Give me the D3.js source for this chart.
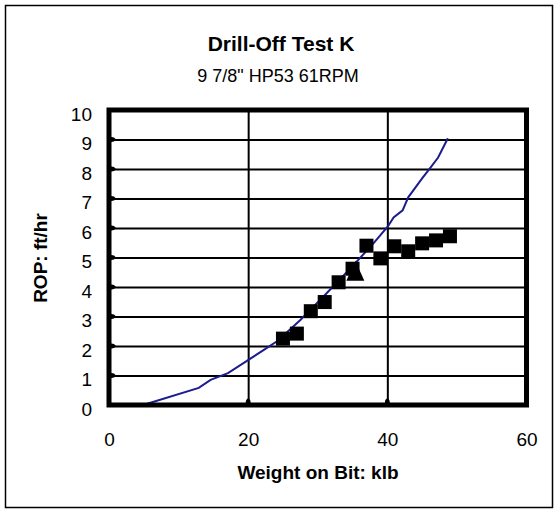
<!DOCTYPE html>
<html><head><meta charset="utf-8">
<script src="https://cdn.jsdelivr.net/npm/d3@7"></script>
<style>
body{margin:0;background:#fff;}
svg{display:block;font-family:"Liberation Sans",Arial,sans-serif;}
</style></head>
<body><svg id="c" width="558" height="512"></svg>
<script>
const title = "Drill-Off Test K";
const subtitle = "9 7/8\" HP53 61RPM";
const xTitle = "Weight on Bit: klb";
const yTitle = "ROP: ft/hr";
const xTicks = [0, 20, 40, 60];
const yTicks = [0,1,2,3,4,5,6,7,8,9,10];

// measured points (squares)
const wob = [25, 27, 29, 31, 33, 35, 37, 39, 41, 43, 45, 47, 49];
const rop = [2.25, 2.42, 3.18, 3.49, 4.16, 4.62, 5.40, 4.97, 5.38, 5.21, 5.48, 5.58, 5.72];
// single triangle point
const triWob = [35.4];
const triRop = [4.52];
// model curve (blue line)
const lineWob = [4.9, 12.9, 14.6, 17.1, 19.6, 22.2, 24.2, 27.5, 31, 35.4, 38, 40.1, 40.9, 42.2, 43.0, 45.0, 46.2, 47.3, 48.7];
const lineRop = [0.0, 0.58, 0.85, 1.08, 1.46, 1.86, 2.17, 2.88, 3.72, 4.81, 5.48, 6.06, 6.36, 6.60, 7.04, 7.68, 8.05, 8.39, 9.04];

const svg = d3.select("#c");
const L = 109, R = 526.5, T = 110, B = 405;
const x = d3.scaleLinear().domain([0, 60]).range([L, R]);
const y = d3.scaleLinear().domain([0, 10]).range([B, T]);
const FONT = "Liberation Sans, Arial, sans-serif";

// outer border
svg.append("rect").attr("x", 5.5).attr("y", 5.5).attr("width", 547).attr("height", 502)
  .attr("fill", "#fff").attr("stroke", "#000").attr("stroke-width", 1.5);

// titles
svg.append("text").attr("x", 281).attr("y", 51).attr("text-anchor", "middle")
  .attr("font-size", 21).attr("font-weight", "bold").text(title);
svg.append("text").attr("x", 278).attr("y", 82).attr("text-anchor", "middle")
  .attr("font-size", 18).text(subtitle);

// gridlines
const gy = svg.append("g").attr("transform", `translate(${L},0)`)
  .call(d3.axisLeft(y).tickValues(yTicks.slice(1, -1)).tickSize(-(R - L)).tickFormat(""));
gy.select(".domain").remove();
gy.selectAll("line").attr("stroke", "#000").attr("stroke-width", 2);
const gx = svg.append("g").attr("transform", `translate(0,${B})`)
  .call(d3.axisBottom(x).tickValues(xTicks.slice(1, -1)).tickSize(-(B - T)).tickFormat(""));
gx.select(".domain").remove();
gx.selectAll("line").attr("stroke", "#000").attr("stroke-width", 2);

// inner tick marks
svg.append("g").selectAll("path").data(yTicks.slice(1, -1)).join("path")
  .attr("d", d => `M${L},${y(d)-3}L${L+5},${y(d)-2}L${L+7},${y(d)}L${L+5},${y(d)+2}L${L},${y(d)+3}Z`)
  .attr("fill", "#000");
svg.append("g").selectAll("path").data(xTicks.slice(1, -1)).join("path")
  .attr("d", d => `M${x(d)-3},${B}L${x(d)-2},${B-5}L${x(d)},${B-7}L${x(d)+2},${B-5}L${x(d)+3},${B}Z`)
  .attr("fill", "#000");

// tick labels
const ax = svg.append("g").attr("transform", `translate(0,${B + 24})`)
  .call(d3.axisBottom(x).tickValues(xTicks).tickSize(0).tickFormat(d3.format("d")));
ax.select(".domain").remove();
ax.selectAll("text").attr("font-size", 19).attr("font-family", FONT).attr("fill", "#000");
const ay = svg.append("g").attr("transform", `translate(${L - 14},4)`)
  .call(d3.axisLeft(y).tickValues(yTicks).tickSize(0).tickFormat(d3.format("d")));
ay.select(".domain").remove();
ay.selectAll("text").attr("font-size", 19).attr("font-family", FONT).attr("fill", "#000");

// axis titles
svg.append("text").attr("x", 318).attr("y", 479).attr("text-anchor", "middle")
  .attr("font-size", 19).attr("font-weight", "bold").text(xTitle);
svg.append("text").attr("transform", "translate(47,258) rotate(-90)").attr("text-anchor", "middle")
  .attr("font-size", 19).attr("font-weight", "bold").text(yTitle);

// line
const lineData = lineWob.map((w, i) => [w, lineRop[i]]);
svg.append("path").datum(lineData)
  .attr("d", d3.line().x(d => x(d[0])).y(d => y(d[1])))
  .attr("fill", "none").attr("stroke", "#1c1c8e").attr("stroke-width", 2);

// squares
const pts = wob.map((w, i) => [w, rop[i]]);
svg.append("g").selectAll("rect").data(pts).join("rect")
  .attr("x", d => x(d[0]) - 7).attr("y", d => y(d[1]) - 7)
  .attr("width", 14).attr("height", 14).attr("fill", "#000");

// triangle
const tri = triWob.map((w, i) => [w, triRop[i]]);
svg.append("g").selectAll("path").data(tri).join("path")
  .attr("transform", d => `translate(${x(d[0])},${y(d[1])})`)
  .attr("d", "M0,-11L9,9L-9,9Z").attr("fill", "#000");

// plot frame
svg.append("rect").attr("x", L).attr("y", T).attr("width", R - L).attr("height", B - T)
  .attr("fill", "none").attr("stroke", "#000").attr("stroke-width", 5);
</script></body></html>
